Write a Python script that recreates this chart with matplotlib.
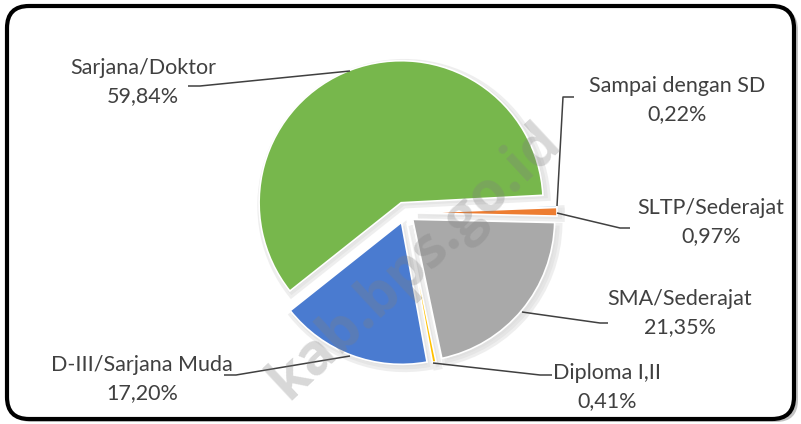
import matplotlib
matplotlib.use("Agg")
import matplotlib.pyplot as plt
from matplotlib.patches import FancyBboxPatch

# data
categories = ["Sampai dengan SD", "SLTP/Sederajat", "SMA/Sederajat",
              "Diploma I,II", "D-III/Sarjana Muda", "Sarjana/Doktor"]
values = [0.22, 0.97, 21.35, 0.41, 17.20, 59.84]
value_labels = ["0,22%", "0,97%", "21,35%", "0,41%", "17,20%", "59,84%"]
colors = ["#5B9BD5", "#ED7D31", "#A9A9A9", "#FFC000", "#4A7BD0", "#77B74C"]

W, H = 801, 424
fig = plt.figure(figsize=(W / 100, H / 100), dpi=100)
ax = fig.add_axes([0, 0, 1, 1])

def Y(y):
    # image y (top down) -> axes y
    return H - y

# frame with shadow
shadow = FancyBboxPatch((10, Y(422)), 788, 414, boxstyle="round,pad=0,rounding_size=22",
                        fc="#9a9a9a", ec="none", alpha=0.6, zorder=0)
ax.add_patch(shadow)
frame = FancyBboxPatch((7, Y(419)), 787, 413, boxstyle="round,pad=0,rounding_size=22",
                       fc="white", ec="black", lw=3, zorder=1)
ax.add_patch(frame)

# pie (explode is in data units = pixels here)
cx, cy, r = 405, Y(213), 142
explode = [10, 10, 10, 10, 10, 11]
# soft shadow under the slices
ax.pie(values, explode=explode, colors=["#d4d4d4"] * 6, startangle=3, counterclock=False,
       radius=r + 2, center=(cx + 3, cy - 3), frame=True,
       wedgeprops=dict(edgecolor="#e8e8e8", linewidth=4, alpha=0.7, zorder=2))
wedges, _ = ax.pie(values, explode=explode, colors=colors, startangle=3, counterclock=False,
                   radius=r, center=(cx, cy), frame=True,
                   wedgeprops=dict(edgecolor="white", linewidth=1.2, zorder=3))
ax.set_xlim(0, W)
ax.set_ylim(0, H)
ax.set_aspect("equal")
ax.axis("off")

font = ["Lato", "DejaVu Sans"]
tc = "#404040"
fs = 15.5

label_pos = [(677, 100), (711, 222), (680, 313), (607, 387), (142, 379), (143, 82)]
for name, vl, (x, y) in zip(categories, value_labels, label_pos):
    ax.text(x, Y(y), name + "\n" + vl, ha="center", va="center", fontsize=fs,
            family=font, color=tc, linespacing=1.45, zorder=6)

# leader lines (image pixel coordinates)
leaders = [
    [(557, 206), (563, 97), (574, 97)],
    [(557, 213), (620, 228), (630, 228)],
    [(522, 312), (600, 323), (608, 323)],
    [(433, 363), (540, 375), (552, 375)],
    [(350, 356), (236, 375), (224, 375)],
    [(350, 71), (200, 86), (188, 86)],
]
for pts in leaders:
    ax.plot([p[0] for p in pts], [Y(p[1]) for p in pts], color="#404040", lw=1.1,
            zorder=5, solid_capstyle="butt")

# watermark
ax.text(415, Y(262), "kab.bps.go.id", rotation=43, ha="center", va="center",
        fontsize=41, fontweight="bold", family=["Open Sans", "DejaVu Sans"],
        color="#7f7f7f", alpha=0.3, zorder=7, clip_on=True)

fig.savefig("out.png", dpi=100)
